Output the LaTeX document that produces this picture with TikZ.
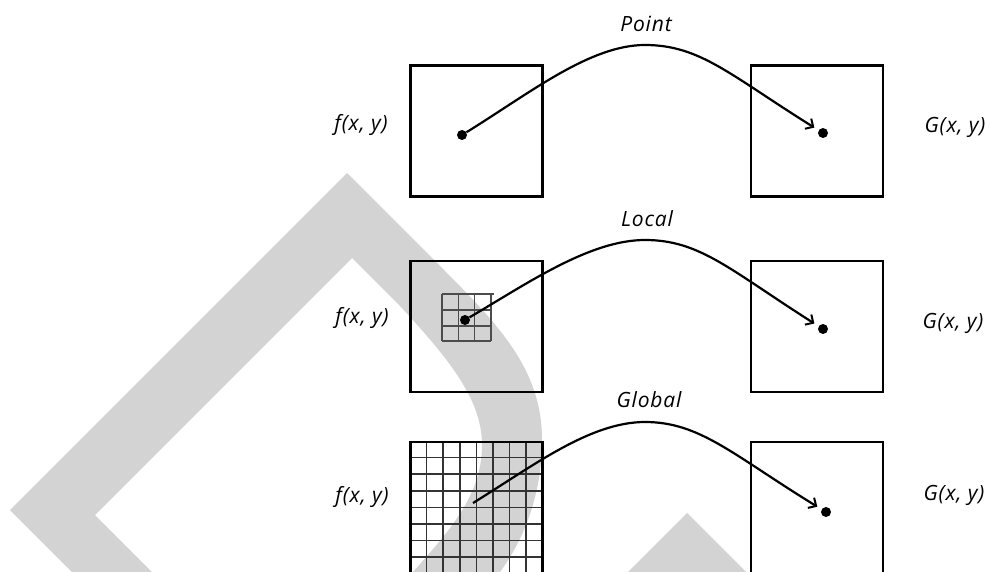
\documentclass[tikz,border=0pt]{standalone}
\usepackage{fontspec}
\setmainfont{Open Sans}
\usetikzlibrary{arrows.meta}
\definecolor{wm}{RGB}{211,211,211}
\begin{document}
\begin{tikzpicture}[x=1pt,y=-1pt,
  box/.style={draw,line width=2.6pt,minimum width=132pt,minimum height=131pt,inner sep=0pt,outer sep=0pt},
  dot/.style={circle,fill=black,minimum size=10pt,inner sep=0pt},
  lbl/.style={font=\fontsize{21}{24}\selectfont\itshape\addfontfeature{LetterSpace=4}},
  conn/.style={line width=2.2pt,-{Straight Barb[length=6pt,width=12pt,line width=2pt]}},
  gridline/.style={line width=1.7pt,black!80}]
\useasboundingbox (0,0) rectangle (990,572);
\clip (0,0) rectangle (990,572);
% watermark
\fill[wm] (72,572) -- (10,510) -- (347,173) -- (440,266)
  .. controls (500,326) and (542,370) .. (542,440)
  .. controls (542,500) and (520,545) .. (500,572) -- (413,572)
  .. controls (450,530) and (482,495) .. (482,445)
  .. controls (482,400) and (450,360) .. (400,306) -- (352,258) -- (95,515) -- (152,572) -- cycle;
\fill[wm] (628,572) -- (687,513) -- (746,572) -- cycle;
% row 3 grid
\foreach \i in {1,...,7}{
  \draw[gridline] ({410+\i*16.6},441) -- ++(0,135);
  \draw[gridline] (410,{441+\i*16.6}) -- ++(133,0);
}
% row 2 small grid
\foreach \xx in {442,458.3,474.7,491}{\draw[line width=1.2pt,black!70] (\xx,294) -- (\xx,341);}
\foreach \yy in {294,310,326,341}{\draw[line width=1.2pt,black!70] (442,\yy) -- (491,\yy);}
\draw[line width=1.2pt,black!70] (491,294) -- (494,294);
% boxes
\node[box] (L1) at (476.5,131) {};
\node[box] (R1) at (817,131) {};
\node[box] (L2) at (476.5,326.5) {};
\node[box] (R2) at (817,326.5) {};
\node[box] (L3) at (476.5,507.5) {};
\node[box] (R3) at (817,507.5) {};
% dots
\node[dot] (p1) at (462,135) {};
\node[dot] (q1) at (823,133) {};
\node[dot] (p2) at (465,320) {};
\node[dot] (q2) at (823,329) {};
\coordinate (s3) at (473,503);
\node[dot] (q3) at (826,512) {};
% labels
\node[lbl] (f1) at (361,125) {f(x, y)};
\node[lbl] (f2) at (362,318) {f(x, y)};
\node[lbl] (f3) at (362,497) {f(x, y)};
\node[lbl] (g1) at (955,127) {G(x, y)};
\node[lbl] (g2) at (953,323) {G(x, y)};
\node[lbl] (g3) at (954,495) {G(x, y)};
\node[lbl] (t1) at (646,24) {Point};
\node[lbl] (t2) at (647,219) {Local};
\node[lbl] (t3) at (649,400) {Global};
% connectors
\draw[conn,shorten >=5pt] (p1) .. controls (530,93) and (590,45) .. (645,45) .. controls (700,45) and (730,75) .. (q1);
\draw[conn,shorten >=5pt] (p2) .. controls (528,283) and (590,240) .. (645,240) .. controls (700,240) and (730,270) .. (q2);
\draw[conn,shorten >=5pt] (s3) .. controls (533,466) and (590,422) .. (645,422) .. controls (700,422) and (733,455) .. (q3);
\end{tikzpicture}
\end{document}
